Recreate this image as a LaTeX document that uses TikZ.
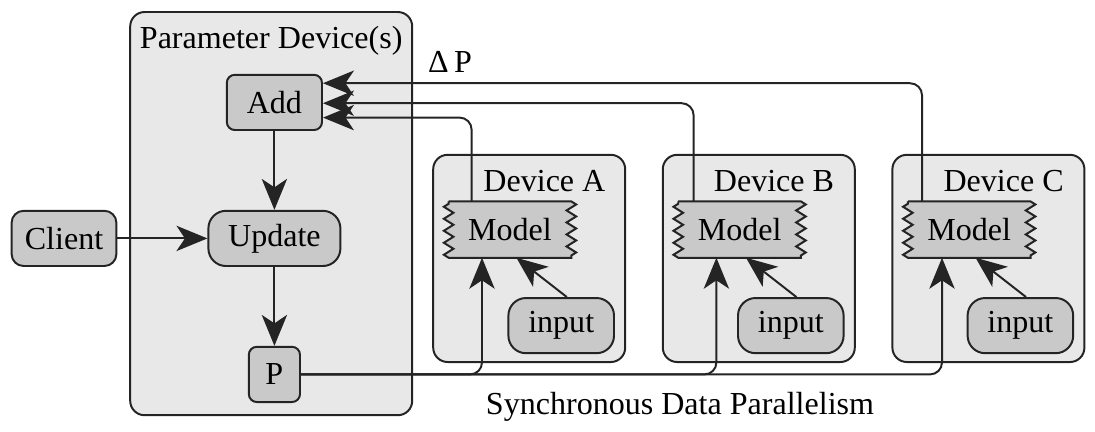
\documentclass[tikz,border=0pt]{standalone}
\usepackage{fontspec}
\setmainfont{Liberation Serif}
\usepackage{xcolor}
\usepackage{tikz}
\usetikzlibrary{shapes,arrows.meta,positioning,decorations.pathmorphing}
\definecolor{boxgray}{gray}{0.91}
\definecolor{nodegray}{gray}{0.79}
\definecolor{linegray}{gray}{0.14}
\pgfdeclarelayer{background}
\pgfsetlayers{background,main}
\tikzstyle{block} = [rectangle, draw=linegray, fill=nodegray, line width=0.7pt, rounded corners=0.1cm,
    text centered, minimum height=0.69cm]
\tikzstyle{roundblock} = [block, rounded corners=0.22cm]
\tikzstyle{model} = [rectangle, inner sep=0pt, minimum width=1.52cm, minimum height=0.69cm]
\tikzstyle{zigzagfill} = [draw=linegray, fill=nodegray, line width=0.7pt,
    decoration={zigzag, segment length=0.15cm, amplitude=0.06cm}]
\tikzstyle{container} = [rectangle, draw=linegray, fill=boxgray, line width=0.7pt, rounded corners=0.18cm]
\tikzstyle{line} = [draw=linegray, line width=0.7pt, -{Stealth[length=11pt,width=9pt,inset=3pt]}]
\tikzstyle{wire} = [line, rounded corners=0.15cm]

\begin{document}
\begin{tikzpicture}[node distance = 1.7cm, font=\fontsize{11.4}{13.7}\selectfont]
    \useasboundingbox (0,0) rectangle (13.6875,-5.3875);
    % Place nodes
    \node [block, minimum width=1.19cm] (add) at (3.43,-1.28) {Add};
    \node [roundblock, below of=add, minimum width=1.65cm] (update) {Update};
    \node [block, below of=update, minimum width=0.64cm] (p) {P};
    \node [block, left of=update, node distance=2.63cm, minimum width=1.31cm, rounded corners=0.15cm] (client) {Client};
    \node [model] (mA) at (6.375,-2.87) {Model};
    \node [model, right of=mA, node distance=2.87cm] (mB) {Model};
    \node [model, right of=mB, node distance=2.87cm] (mC) {Model};
    \node [roundblock, minimum width=1.32cm] (inA) at ([xshift=0.64cm,yshift=-1.2cm]mA) {input};
    \node [roundblock, minimum width=1.32cm] (inB) at ([xshift=0.64cm,yshift=-1.2cm]mB) {input};
    \node [roundblock, minimum width=1.32cm] (inC) at ([xshift=0.64cm,yshift=-1.2cm]mC) {input};

    % Boxes behind
    \begin{pgfonlayer}{background}
    \node [container, minimum width=3.525cm, minimum height=5.04cm] (pbox) at ([xshift=-0.04cm,yshift=0.31cm]update) {};
    \node [container, minimum width=2.4cm, minimum height=2.59cm] (devA) at ([xshift=0.24cm,yshift=-0.36cm]mA) {};
    \node [container, minimum width=2.4cm, minimum height=2.59cm] (devB) at ([xshift=0.24cm,yshift=-0.36cm]mB) {};
    \node [container, minimum width=2.4cm, minimum height=2.59cm] (devC) at ([xshift=0.24cm,yshift=-0.36cm]mC) {};
    \path [zigzagfill] (mA.north west) -- (mA.north east) decorate {-- (mA.south east)} -- (mA.south west) decorate {-- (mA.north west)} -- cycle;
    \path [zigzagfill] (mB.north west) -- (mB.north east) decorate {-- (mB.south east)} -- (mB.south west) decorate {-- (mB.north west)} -- cycle;
    \path [zigzagfill] (mC.north west) -- (mC.north east) decorate {-- (mC.south east)} -- (mC.south west) decorate {-- (mC.north west)} -- cycle;
    \end{pgfonlayer}

    % Titles
    \node (ptitle) at ([yshift=-0.375cm]pbox.north) {Parameter Device(s)};
    \node (tA) at ([xshift=0.19cm,yshift=-0.34cm]devA.north) {Device A};
    \node (tB) at ([xshift=0.19cm,yshift=-0.34cm]devB.north) {Device B};
    \node (tC) at ([xshift=0.19cm,yshift=-0.34cm]devC.north) {Device C};
    \node (caption) at (8.5,-5.09) {Synchronous Data Parallelism};

    % Draw edges
    \path [line] (add) -- (update);
    \path [line] (update) -- (p);
    \path [line] (client) -- (update);
    \path [line] ([xshift=0.07cm]inA.north) -- ([xshift=0.08cm]mA.south);
    \path [line] ([xshift=0.07cm]inB.north) -- ([xshift=0.08cm]mB.south);
    \path [line] ([xshift=0.07cm]inC.north) -- ([xshift=0.08cm]mC.south);
    \path [wire] (p.east) -| ([xshift=-0.35cm]mA.south);
    \path [wire] (p.east) -| ([xshift=-0.29cm]mB.south);
    \path [wire] (p.east) -| ([xshift=-0.34cm]mC.south);
    \path [wire] ([xshift=-0.48cm]mA.north) |- ([yshift=-0.19cm]add.east);
    \path [wire] ([xshift=-0.575cm]mB.north) |- ([yshift=-0.01cm]add.east);
    \path [wire] ([xshift=-0.59cm]mC.north) |- node [pos=0.894, above] (dp) {Δ\,P} ([yshift=0.24cm]add.east);
\end{tikzpicture}
\end{document}
